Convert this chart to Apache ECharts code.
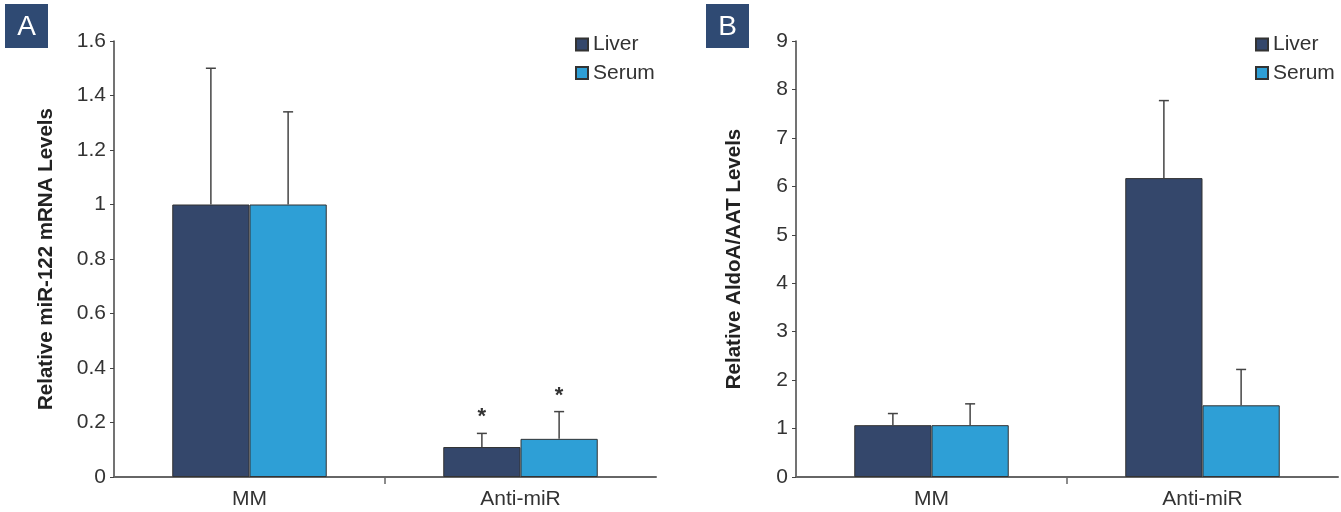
<!DOCTYPE html>
<html>
<head>
<meta charset="utf-8">
<script src="https://cdn.jsdelivr.net/npm/echarts@6/dist/echarts.min.js"></script>
<style>
  html, body { margin: 0; padding: 0; background: #fff; }
  #chart { width: 1341px; height: 512px; }
</style>
</head>
<body>
<div id="chart"></div>
<script>
var categories = ['MM', 'Anti-miR'];

// panel A: relative miR-122 mRNA levels
var mirLiver = [1, 0.11];
var mirLiverErr = [0.5, 0.05];
var mirSerum = [1, 0.14];
var mirSerumErr = [0.34, 0.10];
var mirLiverStar = ['', '*'];
var mirSerumStar = ['', '*'];

// panel B: relative AldoA/AAT levels
var aldoLiver = [1.07, 6.17];
var aldoLiverErr = [0.24, 1.6];
var aldoSerum = [1.07, 1.48];
var aldoSerumErr = [0.44, 0.74];

var LIVER = '#34476b';
var SERUM = '#2e9fd6';
var FONT = '"Liberation Sans", Arial, sans-serif';
var GAP = 0.43;

function errData(vals, errs, stars) {
    return vals.map(function (v, i) {
        return [i, v, errs[i], stars ? stars[i] : ''];
    });
}

function errRender(side) {
    return function (params, api) {
        var i = api.value(0), v = api.value(1), e = api.value(2);
        var star = api.value(3);
        var base = api.coord([i, v]);
        var top = api.coord([i, v + e]);
        var band = api.size([1, 0])[0];
        var w = band * (1 - GAP) / 2;
        var cx = base[0] + side * w / 2;
        var children = [
            {type: 'line', shape: {x1: cx, y1: base[1], x2: cx, y2: top[1]},
             style: {stroke: '#444', lineWidth: 1.5}},
            {type: 'line', shape: {x1: cx - 5, y1: top[1], x2: cx + 5, y2: top[1]},
             style: {stroke: '#444', lineWidth: 1.5}}
        ];
        if (star) {
            children.push({type: 'text', x: cx, y: top[1] - 5,
                style: {text: star, fill: '#333', font: 'bold 22px ' + FONT,
                        align: 'center', verticalAlign: 'bottom'}});
        }
        return {type: 'group', children: children};
    };
}

// tick between the two categories only (no tick at the axis ends)
function tickRender(params, api) {
    var p = api.coord([api.value(0), 0]);
    var band = api.size([1, 0])[0];
    var x = p[0] - band / 2;
    return {type: 'line', shape: {x1: x, y1: p[1], x2: x, y2: p[1] + 7},
            style: {stroke: '#666', lineWidth: 1.5}};
}

function xAxis(idx) {
    return {
        type: 'category', gridIndex: idx, data: categories,
        axisLine: {lineStyle: {color: '#666', width: 2}},
        axisTick: {show: false},
        axisLabel: {color: '#333', fontSize: 21, fontFamily: FONT, margin: 12}
    };
}

function yAxis(idx, max, step, name, gap) {
    return {
        type: 'value', gridIndex: idx, min: 0, max: max, interval: step,
        name: name, nameLocation: 'middle', nameGap: gap,
        nameTextStyle: {color: '#222', fontSize: 20.5, fontWeight: 'bold', fontFamily: FONT},
        splitLine: {show: false},
        axisLine: {show: true, lineStyle: {color: '#444', width: 1.5}},
        axisTick: {show: true, length: 4, lineStyle: {color: '#444'}},
        axisLabel: {color: '#333', fontSize: 21, fontFamily: FONT, margin: 8}
    };
}

function bar(name, color, data, idx) {
    return {
        type: 'bar', name: name, xAxisIndex: idx, yAxisIndex: idx, data: data,
        barGap: '0%', barCategoryGap: (GAP * 100) + '%',
        itemStyle: {color: color, borderColor: '#333', borderWidth: 1}
    };
}

function errSeries(idx, side, vals, errs, stars) {
    return {
        type: 'custom', xAxisIndex: idx, yAxisIndex: idx, z: 5,
        renderItem: errRender(side), data: errData(vals, errs, stars)
    };
}

function tickSeries(idx) {
    return {
        type: 'custom', xAxisIndex: idx, yAxisIndex: idx, z: 5, clip: false,
        renderItem: tickRender, data: [[1]]
    };
}

function legend(left) {
    return {
        data: ['Liver', 'Serum'], orient: 'vertical', left: left, top: 34, padding: 0,
        icon: 'rect', itemWidth: 12, itemHeight: 12, itemGap: 7.5,
        textStyle: {color: '#333', fontSize: 21, fontFamily: FONT, lineHeight: 20},
        selectedMode: false
    };
}

function panelLabel(x, txt) {
    return {
        type: 'group', left: x, top: 4,
        children: [
            {type: 'rect', shape: {x: 0, y: 0, width: 43, height: 44}, style: {fill: '#2f4a73'}},
            {type: 'text', x: 21.5, y: 23, style: {text: txt, fill: '#fff',
                font: '28px ' + FONT, align: 'center', verticalAlign: 'middle'}}
        ]
    };
}

var option = {
    animation: false,
    backgroundColor: '#fff',
    grid: [
        {left: 114, right: 685, top: 41, bottom: 35},
        {left: 796, right: 3, top: 41, bottom: 35}
    ],
    legend: [legend(575), legend(1255)],
    xAxis: [xAxis(0), xAxis(1)],
    yAxis: [
        yAxis(0, 1.6, 0.2, 'Relative miR-122 mRNA Levels', 57),
        yAxis(1, 9, 1, 'Relative AldoA/AAT Levels', 51)
    ],
    graphic: [panelLabel(5, 'A'), panelLabel(706, 'B')],
    series: [
        bar('Liver', LIVER, mirLiver, 0),
        bar('Serum', SERUM, mirSerum, 0),
        errSeries(0, -1, mirLiver, mirLiverErr, mirLiverStar),
        errSeries(0, 1, mirSerum, mirSerumErr, mirSerumStar),
        tickSeries(0),
        bar('Liver', LIVER, aldoLiver, 1),
        bar('Serum', SERUM, aldoSerum, 1),
        errSeries(1, -1, aldoLiver, aldoLiverErr),
        errSeries(1, 1, aldoSerum, aldoSerumErr),
        tickSeries(1)
    ]
};

var myChart = echarts.init(document.getElementById('chart'));
myChart.setOption(option);
</script>
</body>
</html>
